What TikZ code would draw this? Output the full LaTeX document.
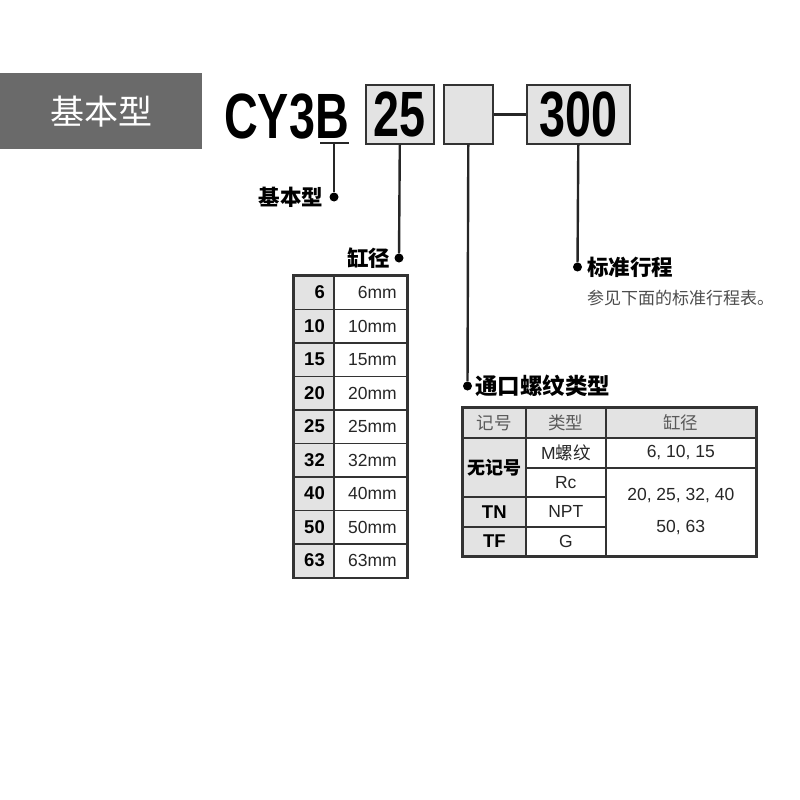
\documentclass[tikz,border=0pt]{standalone}
\usepackage{fontspec}
\setmainfont{Liberation Sans}
\newfontfamily\cjk{Noto Sans CJK SC}
\usetikzlibrary{positioning}

\definecolor{headgray}{HTML}{6A6A6A}
\definecolor{cellgray}{HTML}{E3E3E3}
\definecolor{linegray}{HTML}{333333}
\newcommand{\narrow}[1]{\scalebox{0.73}[1]{#1}}

\begin{document}
\begin{tikzpicture}[x=1pt, y=-1pt,
  codebox/.style={rectangle, draw=linegray, fill=cellgray, line width=1.6pt, inner sep=0pt,
                  anchor=north west, minimum height=59pt, font=\fontsize{64}{64}\selectfont\bfseries},
  dot/.style={circle, fill=black, inner sep=0pt, minimum size=9pt},
  lead/.style={line width=2.4pt, draw=black!85},
  callout/.style={inner sep=0pt, font=\cjk\bfseries\fontsize{21.5}{24}\selectfont},
  cell/.style={rectangle, draw=linegray, line width=1.6pt, inner sep=0pt, anchor=north west,
               text=black!85, font=\fontsize{17.5}{20}\selectfont},
  keycell/.style={cell, fill=cellgray, text=black, font=\bfseries\fontsize{18.5}{20}\selectfont},
  headcell/.style={cell, fill=cellgray, text=black!65, font=\cjk\fontsize{17.5}{20}\selectfont}
]
\useasboundingbox (0,0) rectangle (800,800);

% title bar and order code
\node[fill=headgray, anchor=north west, minimum width=202pt, minimum height=76pt, inner sep=0pt,
      text=white, font=\cjk\fontsize{34}{36}\selectfont] (headbox) at (0,73) {基本型};
\node[anchor=base west, inner sep=0pt, font=\fontsize{64}{64}\selectfont\bfseries] (model) at (224,138) {\narrow{CY3B}};
\node[codebox, minimum width=68pt] (box25) at (365,84) {\narrow{25}};
\node[codebox, minimum width=49pt] (boxport) at (443,84) {};
\node[codebox, minimum width=103pt] (box300) at (526,84) {\narrow{300}};
\draw[lead, line width=2.8pt] (boxport.east) -- (box300.west);

\coordinate (ulleft) at (320,143);
\coordinate (ulright) at (349,143);
\coordinate (ulmid) at (334,143);

% leaders
\node[dot] (dotbasic) at (334,197) {};
\node[dot] (dotbore) at (399,258) {};
\node[dot] (dotport) at (467.5,386) {};
\node[dot] (dotstroke) at (577.5,267) {};

\draw[lead] (ulleft) -- (ulright);
\draw[lead] (ulmid) -- (dotbasic);
\draw[lead] (box25.south) -- (dotbore);
\draw[lead] (boxport.south) -- (dotport);
\draw[lead] (box300.south) -- (dotstroke);

\node[callout, left=6pt of dotbasic] (txtbasic) {基本型};
\node[callout, left=4pt of dotbore] (txtbore) {缸径};
\node[callout, right=5pt of dotstroke] (txtstroke) {标准行程};
\node[anchor=west, inner sep=0pt, text=black!70, font=\cjk\fontsize{17}{18}\selectfont] (txtnote) at (587,298) {参见下面的标准行程表。};
\node[callout, right=3pt of dotport, font=\cjk\bfseries\fontsize{22.5}{24}\selectfont] (txtport) {通口螺纹类型};

% bore table
\foreach \d [count=\i from 0] in {6,10,15,20,25,32,40,50,63} {
  \node[keycell, minimum width=40pt, minimum height=33.5pt, text width=22pt, align=right, inner xsep=9pt]
    (bore\i) at (293,275+33.5*\i) {\d};
  \node[cell, minimum width=73pt, minimum height=33.5pt, text width=53pt, align=right, inner xsep=10pt]
    (mm\i) at (333,275+33.5*\i) {\d mm};
}
\draw[linegray, line width=2.2pt] (bore0.north west) rectangle (mm8.south east);

% port thread table
\node[headcell, minimum width=63pt, minimum height=30pt] (hkey) at (462,407) {记号};
\node[headcell, minimum width=80pt, minimum height=30pt] (htype) at (525,407) {类型};
\node[headcell, minimum width=150pt, minimum height=30pt] (hbore) at (605,407) {缸径};
\node[keycell, minimum width=63pt, minimum height=59pt, font=\cjk\bfseries\fontsize{18}{20}\selectfont] (kblank) at (462,437) {无记号};
\node[keycell, minimum width=63pt, minimum height=30pt] (ktn) at (462,496) {TN};
\node[keycell, minimum width=63pt, minimum height=29pt] (ktf) at (462,526) {TF};
\node[cell, minimum width=80pt, minimum height=30pt] (tm) at (525,437) {M{\cjk 螺纹}};
\node[cell, minimum width=80pt, minimum height=29pt] (trc) at (525,467) {Rc};
\node[cell, minimum width=80pt, minimum height=30pt] (tnpt) at (525,496) {NPT};
\node[cell, minimum width=80pt, minimum height=29pt] (tg) at (525,526) {G};
\node[cell, minimum width=150pt, minimum height=30pt] (bsmall) at (605,437) {6, 10, 15};
\node[cell, minimum width=150pt, minimum height=88pt, align=center, font=\fontsize{17.5}{32}\selectfont]
  (blarge) at (605,467) {20, 25, 32, 40\\50, 63};
\draw[linegray, line width=2.2pt] (hkey.north west) rectangle (blarge.south east);
\end{tikzpicture}
\end{document}
